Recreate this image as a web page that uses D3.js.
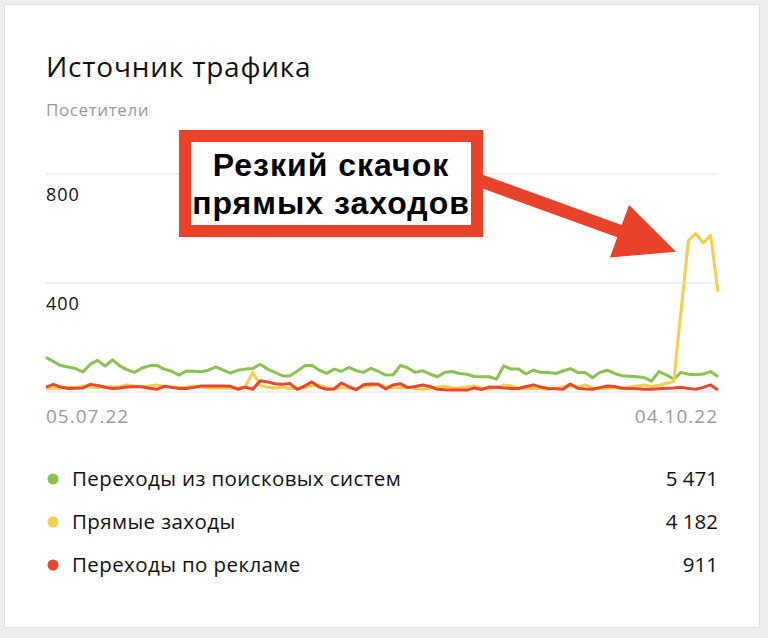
<!DOCTYPE html>
<html>
<head>
<meta charset="utf-8">
<script src="https://cdn.jsdelivr.net/npm/d3@7"></script>
<style>
  html, body { margin: 0; padding: 0; background: #efeeec; }
  svg { display: block; }
</style>
</head>
<body>
<div id="chart"></div>
<script>
// daily visitors, 05.07.22 .. 04.10.22
const searchVisits = [127, 112, 97, 92, 86, 74, 102, 116, 95, 118, 96, 81, 72, 88, 96, 98, 84, 76, 62, 77,
    76, 74, 80, 92, 80, 69, 80, 84, 86, 102, 84, 72, 60, 59, 76, 96, 98, 80, 68, 84,
    76, 90, 78, 72, 87, 76, 62, 63, 98, 88, 72, 78, 66, 56, 72, 75, 68, 65, 57, 56,
    56, 47, 96, 84, 84, 66, 80, 72, 72, 68, 77, 86, 72, 72, 52, 72, 80, 68, 60, 58,
    56, 53, 40, 75, 63, 47, 72, 65, 63, 66, 75, 56];
const directVisits = [12, 15, 14, 18, 16, 22, 18, 16, 20, 18, 20, 26, 22, 18, 22, 26, 20, 18, 16, 18,
    22, 18, 15, 14, 16, 14, 15, 20, 72, 25, 17, 15, 18, 12, 14, 16, 22, 26, 15, 12,
    16, 14, 12, 18, 22, 28, 20, 16, 15, 18, 12, 10, 14, 18, 20, 15, 16, 18, 22, 14,
    12, 16, 26, 22, 15, 12, 14, 12, 10, 14, 18, 22, 18, 26, 15, 12, 14, 16, 14, 18,
    22, 26, 20, 25, 32, 38, 300, 556, 581, 547, 575, 368];
const adVisits = [18, 28, 18, 13, 14, 15, 28, 24, 17, 13, 15, 18, 19, 19, 14, 10, 21, 17, 13, 13,
    17, 22, 22, 22, 22, 21, 10, 18, 10, 41, 37, 30, 28, 31, 10, 22, 37, 18, 10, 11,
    33, 20, 8, 27, 29, 28, 11, 26, 30, 16, 20, 26, 20, 10, 8, 7, 7, 7, 15, 9,
    18, 17, 15, 13, 13, 20, 26, 18, 13, 12, 10, 29, 14, 11, 10, 16, 22, 20, 14, 13,
    12, 10, 10, 12, 14, 15, 17, 13, 10, 17, 26, 7];

const seriesNames = ["Переходы из поисковых систем", "Прямые заходы", "Переходы по рекламе"];
const seriesTotals = ["5 471", "4 182", "911"];
const seriesColors = ["#8cc152", "#f5cd4f", "#e8472c"];
const yTicks = [0, 400, 800];
const xTickLabels = ["05.07.22", "04.10.22"];
const noteLines = ["Резкий скачок", "прямых заходов"];
const noteTarget = {day: 85.3, value: 515};

const W = 768, H = 638;
const plot = {left: 46, right: 718, top: 174, bottom: 392};

const svg = d3.select("#chart")
    .append("svg")
    .attr("width", W)
    .attr("height", H);

// card
svg.append("rect")
    .attr("x", 4.5).attr("y", 4.5)
    .attr("width", 755).attr("height", 623)
    .attr("fill", "#fff")
    .attr("stroke", "#e2e1df");

const font = "'Open Sans', Roboto, sans-serif";

svg.append("text")
    .attr("x", 46).attr("y", 77)
    .style("font-family", font)
    .style("font-size", "28px")
    .style("letter-spacing", "0.8px")
    .style("fill", "#111")
    .text("Источник трафика");

svg.append("text")
    .attr("x", 46).attr("y", 116)
    .style("font-family", font)
    .style("font-size", "17px")
    .style("letter-spacing", "0.6px")
    .style("fill", "#9a9a9a")
    .text("Посетители");

const x = d3.scaleLinear()
    .domain([0, searchVisits.length - 1])
    .range([plot.left, plot.right]);

const y = d3.scaleLinear()
    .domain([0, 800])
    .range([plot.bottom, plot.top]);

// grid + y labels
const grid = svg.append("g");
grid.selectAll("line")
    .data(yTicks)
    .join("line")
    .attr("x1", plot.left).attr("x2", plot.right)
    .attr("y1", d => y(d)).attr("y2", d => y(d))
    .attr("stroke", "#e4e4e4")
    .attr("stroke-width", 1.2);
grid.selectAll("text")
    .data(yTicks.filter(d => d > 0))
    .join("text")
    .attr("x", plot.left)
    .attr("y", d => y(d) + 27)
    .style("font-family", font)
    .style("font-size", "18px")
    .style("letter-spacing", "1px")
    .style("fill", "#111")
    .text(d => d);

// x labels
svg.selectAll(".xlab")
    .data(xTickLabels)
    .join("text")
    .attr("class", "xlab")
    .attr("x", (d, i) => i === 0 ? x(0) : x(searchVisits.length - 1))
    .attr("y", 423)
    .attr("text-anchor", (d, i) => i === 0 ? "start" : "end")
    .style("font-family", font)
    .style("font-size", "19px")
    .style("letter-spacing", "1px")
    .style("fill", "#9a9a9a")
    .text(d => d);

const line = d3.line()
    .x((d, i) => x(i))
    .y(d => y(d));

const allSeries = [searchVisits, directVisits, adVisits];
svg.append("g")
    .selectAll("path")
    .data(allSeries)
    .join("path")
    .attr("d", d => line(d))
    .attr("fill", "none")
    .attr("stroke", (d, i) => seriesColors[i])
    .attr("stroke-width", 3)
    .attr("stroke-linejoin", "round");

// annotation box + arrow
const box = {x: 185, y: 136, w: 292, h: 95};
svg.append("rect")
    .attr("x", box.x).attr("y", box.y)
    .attr("width", box.w).attr("height", box.h)
    .attr("fill", "#fff")
    .attr("stroke", "#e8432a")
    .attr("stroke-width", 12);

svg.selectAll(".note")
    .data(noteLines)
    .join("text")
    .attr("class", "note")
    .attr("x", box.x + box.w / 2)
    .attr("y", (d, i) => 176 + i * 38)
    .attr("text-anchor", "middle")
    .style("font-family", "'Liberation Sans', Arial, sans-serif")
    .style("font-weight", "bold")
    .style("font-size", "32px")
    .style("letter-spacing", "1px")
    .style("fill", "#000")
    .text(d => d);

const tip = [x(noteTarget.day), y(noteTarget.value)];
const start = [box.x + box.w + 4, 181];
const dx = tip[0] - start[0], dy = tip[1] - start[1];
const len = Math.hypot(dx, dy);
const ux = dx / len, uy = dy / len, px = -uy, py = ux;
const headLen = 60, headHalf = 28, shaftHalf = 6.5;
const base = [tip[0] - ux * headLen, tip[1] - uy * headLen];
const arrowPts = [
    [start[0] + px * shaftHalf, start[1] + py * shaftHalf],
    [base[0] + px * shaftHalf, base[1] + py * shaftHalf],
    [base[0] + px * headHalf, base[1] + py * headHalf],
    tip,
    [base[0] - px * headHalf, base[1] - py * headHalf],
    [base[0] - px * shaftHalf, base[1] - py * shaftHalf],
    [start[0] - px * shaftHalf, start[1] - py * shaftHalf]
];
svg.append("polygon")
    .attr("points", arrowPts.map(p => p.join(",")).join(" "))
    .attr("fill", "#e8432a");

// legend
const legend = svg.append("g")
    .selectAll("g")
    .data(seriesNames)
    .join("g")
    .attr("transform", (d, i) => `translate(0, ${479 + i * 43})`);
legend.append("circle")
    .attr("cx", 53).attr("cy", 0).attr("r", 5.5)
    .attr("fill", (d, i) => seriesColors[i]);
legend.append("text")
    .attr("x", 72).attr("y", 7)
    .style("font-family", font)
    .style("font-size", "20.5px")
    .style("letter-spacing", "0.4px")
    .style("fill", "#111")
    .text(d => d);
legend.append("text")
    .attr("x", 718).attr("y", 7)
    .attr("text-anchor", "end")
    .style("font-family", font)
    .style("font-size", "20.5px")
    .style("fill", "#111")
    .text((d, i) => seriesTotals[i]);
</script>
</body>
</html>
